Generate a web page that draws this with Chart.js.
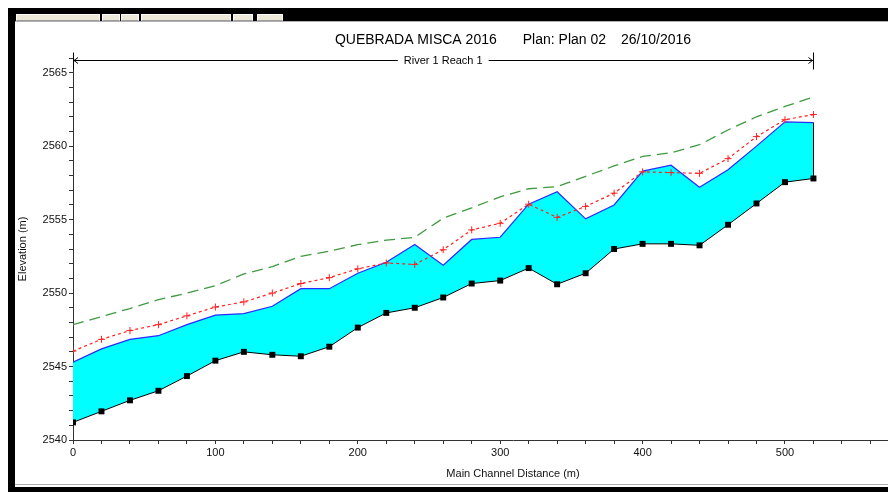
<!DOCTYPE html>
<html>
<head>
<meta charset="utf-8">
<title>QUEBRADA MISCA 2016 - Profile</title>
<script src="https://cdn.jsdelivr.net/npm/chart.js@4.4.1/dist/chart.umd.min.js"></script>
<style>
  html, body { margin: 0; padding: 0; background: #fff; overflow: hidden; width: 888px; height: 492px; }
  #wrap { position: absolute; left: 0; top: 0; width: 960px; height: 492px; }
  .frame { position: absolute; background: #000; z-index: 5; }
  .tool { position: absolute; top: 14px; height: 5px; background: #ece9d8; border: 1px solid #fff; border-bottom-color: #9a9a9a; z-index: 6; }
  .sep { position: absolute; height: 1px; background: #b0b0b0; z-index: 6; }
</style>
</head>
<body>
<div id="wrap"><canvas id="profile" width="960" height="492"></canvas></div>

<!-- marco de la ventana de HEC-RAS -->
<div class="frame" style="left:8px; top:8px; width:880px; height:13px;"></div>
<div class="frame" style="left:8px; top:8px; width:7px; height:484px;"></div>
<div class="frame" style="left:8px; top:487px; width:880px; height:5px;"></div>
<div class="sep" style="left:15px; top:21px; width:873px;"></div>
<div class="sep" style="left:15px; top:484px; width:873px;"></div>
<div class="tool" style="left:16px; width:82px;"></div>
<div class="tool" style="left:102px; width:16px;"></div>
<div class="tool" style="left:121px; width:16px;"></div>
<div class="tool" style="left:141px; width:88px;"></div>
<div class="tool" style="left:233px; width:18px;"></div>
<div class="tool" style="left:257px; width:24px;"></div>

<script>
const stations = [0, 20, 40, 60, 80, 100, 120, 140, 160, 180, 200, 220, 240, 260,
                  280, 300, 320, 340, 360, 380, 400, 420, 440, 460, 480, 500, 520];

const ground = [2541.2, 2541.95, 2542.7, 2543.35, 2544.35, 2545.4, 2546.0, 2545.8, 2545.7,
                2546.35, 2547.65, 2548.65, 2549.0, 2549.7, 2550.65, 2550.85, 2551.7, 2550.6,
                2551.35, 2553.0, 2553.35, 2553.35, 2553.25, 2554.65, 2556.1, 2557.55, 2557.8];

const wsElev = [2545.3, 2546.2, 2546.85, 2547.1, 2547.85, 2548.5, 2548.6, 2549.1, 2550.3,
                2550.3, 2551.35, 2552.1, 2553.3, 2551.9, 2553.65, 2553.8, 2556.05, 2556.9,
                2555.05, 2556.0, 2558.3, 2558.7, 2557.2, 2558.4, 2560.0, 2561.65, 2561.6];

const critElev = [2546.05, 2546.85, 2547.45, 2547.85, 2548.45, 2549.05, 2549.4, 2550.0, 2550.65,
                  2551.05, 2551.65, 2552.05, 2551.95, 2552.95, 2554.3, 2554.75, 2556.05, 2555.15,
                  2555.9, 2556.8, 2558.25, 2558.2, 2558.15, 2559.15, 2560.65, 2561.8, 2562.15];

const egElev = [2547.85, 2548.4, 2548.95, 2549.55, 2550.0, 2550.5, 2551.3, 2551.8, 2552.5,
                2552.85, 2553.3, 2553.6, 2553.8, 2555.1, 2555.8, 2556.55, 2557.1, 2557.25,
                2557.95, 2558.65, 2559.3, 2559.55, 2560.1, 2561.1, 2562.0, 2562.7, 2563.35];

const titleParts = ['QUEBRADA MISCA 2016', 'Plan: Plan 02', '26/10/2016'];
const reachLabel = 'River 1 Reach 1';
const xTitle = 'Main Channel Distance (m)';
const yTitle = 'Elevation (m)';

const FONT = "'Liberation Sans', Arial, sans-serif";

const pts = vals => stations.map((s, i) => ({ x: s, y: vals[i] }));

// titulo + flecha del tramo, dibujados sobre el area del grafico
const headerPlugin = {
  id: 'header',
  afterDraw(chart) {
    const { ctx, chartArea } = chart;
    const xs = chart.scales.x;
    ctx.save();
    ctx.fillStyle = '#000';
    ctx.textBaseline = 'middle';

    // titulo
    ctx.font = '14px ' + FONT;
    const gaps = [26, 15];
    const widths = titleParts.map(t => ctx.measureText(t).width);
    const total = widths.reduce((a, b) => a + b, 0) + gaps.reduce((a, b) => a + b, 0);
    let tx = (chartArea.left + chartArea.right) / 2 - total / 2;
    ctx.textAlign = 'left';
    titleParts.forEach((t, i) => {
      ctx.fillText(t, tx, 40);
      tx += widths[i] + (gaps[i] || 0);
    });

    // flecha River 1 Reach 1
    const x0 = xs.getPixelForValue(stations[0]);
    const x1 = xs.getPixelForValue(stations[stations.length - 1]);
    const y = 60.5;
    ctx.font = '11px ' + FONT;
    const lw = ctx.measureText(reachLabel).width;
    const mid = (x0 + x1) / 2;
    ctx.strokeStyle = '#000';
    ctx.lineWidth = 1;
    ctx.beginPath();
    ctx.moveTo(x0, y); ctx.lineTo(mid - lw / 2 - 6, y);
    ctx.moveTo(mid + lw / 2 + 6, y); ctx.lineTo(x1, y);
    ctx.moveTo(Math.round(x0) + 0.5, y - 8); ctx.lineTo(Math.round(x0) + 0.5, y + 9);
    ctx.moveTo(Math.round(x1) + 0.5, y - 8); ctx.lineTo(Math.round(x1) + 0.5, y + 9);
    ctx.moveTo(x0 + 5, y - 3); ctx.lineTo(x0 + 1, y); ctx.lineTo(x0 + 5, y + 3);
    ctx.moveTo(x1 - 5, y - 3); ctx.lineTo(x1 - 1, y); ctx.lineTo(x1 - 5, y + 3);
    ctx.stroke();
    ctx.textAlign = 'center';
    ctx.fillText(reachLabel, mid, y);
    ctx.restore();
  }
};

// cierre vertical del area de agua en la ultima seccion
const closePlugin = {
  id: 'closeEdge',
  afterDatasetsDraw(chart) {
    const g = chart.getDatasetMeta(0).data;
    const w = chart.getDatasetMeta(1).data;
    if (!g.length || !w.length) return;
    const a = g[g.length - 1], b = w[w.length - 1];
    const ctx = chart.ctx;
    ctx.save();
    ctx.strokeStyle = '#000';
    ctx.lineWidth = 1;
    ctx.beginPath();
    ctx.moveTo(Math.round(a.x) + 0.5, a.y);
    ctx.lineTo(Math.round(b.x) + 0.5, b.y);
    ctx.stroke();
    ctx.restore();
  }
};

const tickFont = { family: FONT, size: 11 };

new Chart(document.getElementById('profile'), {
  type: 'line',
  data: {
    datasets: [
      {
        label: 'Ground',
        data: pts(ground),
        borderColor: '#000',
        borderWidth: 1,
        pointStyle: 'rect',
        pointRadius: 4.2,
        pointBackgroundColor: '#000',
        pointBorderColor: '#000',
        pointBorderWidth: 0,
        order: 0
      },
      {
        label: 'WS PF 1',
        data: pts(wsElev),
        borderColor: '#2a2aff',
        borderWidth: 1.2,
        backgroundColor: '#00ffff',
        fill: { target: 0 },
        pointRadius: 0,
        order: 3
      },
      {
        label: 'Crit PF 1',
        data: pts(critElev),
        borderColor: '#ff2020',
        borderWidth: 1.2,
        borderDash: [3, 3],
        pointStyle: 'cross',
        pointRadius: 3.5,
        pointBorderColor: '#ff2020',
        pointBorderWidth: 1,
        fill: false,
        order: 1
      },
      {
        label: 'EG PF 1',
        data: pts(egElev),
        borderColor: '#3f9a3f',
        borderWidth: 1.3,
        borderDash: [11, 6],
        pointRadius: 0,
        fill: false,
        order: 2
      }
    ]
  },
  options: {
    responsive: false,
    animation: false,
    layout: { padding: { top: 58, left: 0, right: 7, bottom: 6 } },
    plugins: {
      legend: { display: false },
      tooltip: { enabled: false },
      title: { display: false }
    },
    elements: { line: { tension: 0 } },
    scales: {
      x: {
        type: 'linear',
        min: 0,
        max: 618,
        afterFit(scale) { scale.height = 46; },
        border: { display: true, color: '#333', width: 1 },
        grid: { drawOnChartArea: false, drawTicks: true, tickLength: 4, tickColor: '#333' },
        ticks: {
          stepSize: 20,
          includeBounds: false,
          autoSkip: false,
          maxRotation: 0,
          padding: 2,
          color: '#111',
          font: tickFont,
          callback: v => (v % 100 === 0 && v <= 500) ? String(v) : ''
        },
        title: { display: true, text: xTitle, color: '#111', font: tickFont, padding: { top: 0, bottom: 5 } }
      },
      y: {
        type: 'linear',
        min: 2540,
        max: 2566,
        afterFit(scale) { scale.width = 73; },
        border: { display: true, color: '#333', width: 1 },
        grid: { drawOnChartArea: false, drawTicks: true, tickLength: 4, tickColor: '#333' },
        ticks: {
          stepSize: 1,
          includeBounds: false,
          autoSkip: false,
          padding: 2,
          color: '#111',
          font: tickFont,
          callback: v => (v % 5 === 0) ? String(v) : ''
        },
        title: { display: true, text: yTitle, color: '#111', font: tickFont, padding: { top: 16, bottom: 0 } }
      }
    }
  },
  plugins: [headerPlugin, closePlugin]
});
</script>
</body>
</html>
